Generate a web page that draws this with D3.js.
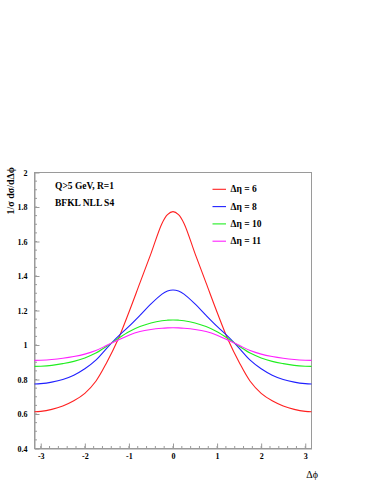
<!DOCTYPE html>
<html>
<head>
<meta charset="utf-8">
<script src="https://cdn.jsdelivr.net/npm/d3@7"></script>
<style>
body { margin: 0; background: #fff; }
svg text { font-family: "Liberation Serif", "Times New Roman", serif; }
</style>
</head>
<body>
<div id="chart"></div>
<script>
// values (azimuthal decorrelation, BFKL NLL S4)
var dphi = [-3.1416, -3, -2.75, -2.5, -2.25, -2, -1.75, -1.5, -1.25, -1, -0.75, -0.5, -0.25, -0.125, 0,
	    0.125, 0.25, 0.5, 0.75, 1, 1.25, 1.5, 1.75, 2, 2.25, 2.5, 2.75, 3, 3.1416];
var deta6 = [0.613, 0.615, 0.627, 0.647, 0.677, 0.720, 0.790, 0.900, 1.030, 1.190, 1.360, 1.530, 1.705, 1.756, 1.773,
	     1.756, 1.705, 1.530, 1.360, 1.190, 1.030, 0.900, 0.790, 0.720, 0.677, 0.647, 0.627, 0.615, 0.613];
var deta8 = [0.774, 0.776, 0.785, 0.800, 0.825, 0.862, 0.912, 0.982, 1.048, 1.108, 1.172, 1.238, 1.295, 1.313, 1.319,
	     1.313, 1.295, 1.238, 1.172, 1.108, 1.048, 0.982, 0.912, 0.862, 0.825, 0.800, 0.785, 0.776, 0.774];
var deta10 = [0.876, 0.877, 0.882, 0.892, 0.905, 0.925, 0.953, 0.993, 1.037, 1.077, 1.107, 1.128, 1.141, 1.144, 1.145,
	      1.144, 1.141, 1.128, 1.107, 1.077, 1.037, 0.993, 0.953, 0.925, 0.905, 0.892, 0.882, 0.877, 0.876];
var deta11 = [0.911, 0.912, 0.916, 0.923, 0.933, 0.947, 0.968, 0.998, 1.028, 1.057, 1.078, 1.090, 1.097, 1.099, 1.100,
	      1.099, 1.097, 1.090, 1.078, 1.057, 1.028, 0.998, 0.968, 0.947, 0.933, 0.923, 0.916, 0.912, 0.911];
var seriesNames = ["\u0394\u03B7 = 6", "\u0394\u03B7 = 8", "\u0394\u03B7 = 10", "\u0394\u03B7 = 11"];
var seriesColors = ["#ff2020", "#2020ff", "#20ee20", "#ff20ff"];
var xTicks = [-3, -2, -1, 0, 1, 2, 3];
var yTicks = [0.4, 0.6, 0.8, 1, 1.2, 1.4, 1.6, 1.8, 2];
var textLines = ["Q>5 GeV, R=1", "BFKL NLL S4"];

var width = 374, height = 484;
var frame = {left: 34.5, right: 311.5, top: 172.5, bottom: 448.5};
var axisCol = "#9a9a9a";

var svg = d3.select("#chart").append("svg")
    .attr("width", width).attr("height", height);

var x = d3.scaleLinear().domain([-Math.PI, Math.PI]).range([frame.left, frame.right]);
var y = d3.scaleLinear().domain([0.4, 2]).range([frame.bottom, frame.top]);

// frame
svg.append("rect")
    .attr("x", frame.left).attr("y", frame.top)
    .attr("width", frame.right - frame.left).attr("height", frame.bottom - frame.top)
    .attr("fill", "none").attr("stroke", axisCol).attr("stroke-width", 1);

// minor ticks (inward)
var xMinor = d3.range(-15, 16).map(function(i) { return i * 0.2; });
svg.append("g").selectAll("line").data(xMinor).enter().append("line")
    .attr("x1", function(d) { return x(d); }).attr("x2", function(d) { return x(d); })
    .attr("y1", frame.bottom).attr("y2", frame.bottom - 2.5)
    .attr("stroke", axisCol);
var yMinor = d3.range(8, 41).map(function(i) { return i * 0.05; });
svg.append("g").selectAll("line").data(yMinor).enter().append("line")
    .attr("y1", function(d) { return y(d); }).attr("y2", function(d) { return y(d); })
    .attr("x1", frame.left).attr("x2", frame.left + 2.5)
    .attr("stroke", axisCol);

// axes with major ticks pointing into the frame
var gx = svg.append("g")
    .attr("transform", "translate(0," + frame.bottom + ")")
    .call(d3.axisBottom(x).tickValues(xTicks).tickSizeInner(-5).tickSizeOuter(0).tickPadding(5)
	  .tickFormat(function(d) { return d < 0 ? "-" + (-d) : d; }));
var gy = svg.append("g")
    .attr("transform", "translate(" + frame.left + ",0)")
    .call(d3.axisLeft(y).tickValues(yTicks).tickSizeInner(-5).tickSizeOuter(0).tickPadding(7)
	  .tickFormat(function(d) { return d3.format("")(+d.toFixed(1)); }));
[gx, gy].forEach(function(g) {
    g.select(".domain").attr("stroke", axisCol);
    g.selectAll(".tick line").attr("stroke", axisCol);
    g.selectAll(".tick text")
	.attr("fill", "#000")
	.style("font-family", "'Liberation Serif', serif")
	.style("font-weight", "bold")
	.style("font-size", "8px");
});

// axis titles
svg.append("text")
    .attr("transform", "translate(13.5,167) rotate(-90)")
    .attr("text-anchor", "end")
    .style("font-weight", "bold").style("font-size", "10px")
    .text("1/\u03C3 d\u03C3/d\u0394\u03D5");
svg.append("text")
    .attr("x", 318).attr("y", 478)
    .attr("text-anchor", "end")
    .style("font-size", "10px")
    .text("\u0394\u03D5");

// curves
var line = d3.line()
    .curve(d3.curveCatmullRom.alpha(0.5))
    .x(function(d) { return x(d[0]); })
    .y(function(d) { return y(d[1]); });
[deta6, deta8, deta10, deta11].forEach(function(vals, i) {
    svg.append("path")
	.datum(d3.zip(dphi, vals))
	.attr("fill", "none")
	.attr("stroke", seriesColors[i])
	.attr("stroke-width", 1.1)
	.attr("d", line);
});

// text in the frame
textLines.forEach(function(t, i) {
    svg.append("text")
	.attr("x", 55).attr("y", 188.5 + i * 17.5)
	.style("font-weight", "bold").style("font-size", "9.5px")
	.text(t);
});

// legend
seriesNames.forEach(function(name, i) {
    var ly = 189.3 + i * 17.3;
    svg.append("line")
	.attr("x1", 212.5).attr("x2", 226).attr("y1", ly).attr("y2", ly)
	.attr("stroke", seriesColors[i]).attr("stroke-width", 1.1);
    svg.append("text")
	.attr("x", 230.5).attr("y", ly + 3)
	.style("font-weight", "bold").style("font-size", "9.5px")
	.text(name);
});
</script>
</body>
</html>
